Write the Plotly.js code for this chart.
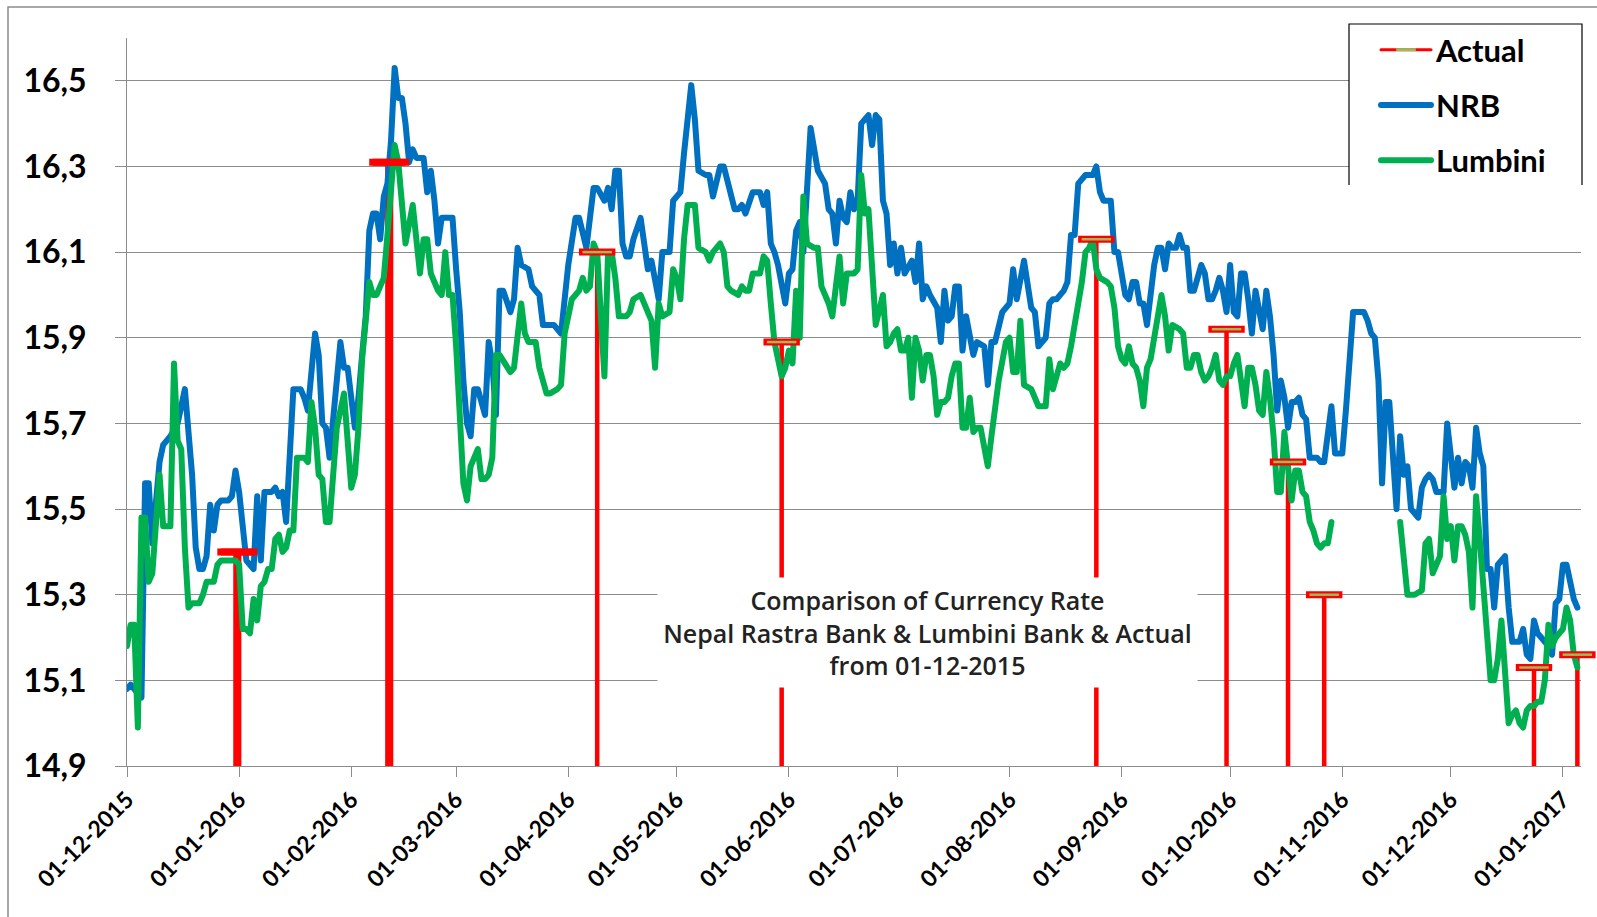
<!DOCTYPE html>
<html>
<head>
<meta charset="utf-8">
<script src="https://cdn.plot.ly/plotly-3.0.1.min.js"></script>
<style>
  html, body { margin: 0; padding: 0; background: #fff; }
  #chart { width: 1597px; height: 917px; }
  path.js-line { stroke-linejoin: round !important; stroke-linecap: round !important; }
</style>
</head>
<body>
<div id="chart"></div>
<script>
// ---- DATA (x = days after 01-12-2015, y = rate) ----
const startDay = '2015-12-01';

const nrbDay = [
  0,1,3,4,5,6,7,8,9,10,12,14,16,18,19,20,21,22,23,24,25,26,28,29,30,
  31,32,33,35,36,37,38,40,41,42,43,44,45,46,48,49,50,52,53,54,55,56,57,59,60,61,
  63,64,65,66,67,68,69,70,71,72,73,74,75,76,77,78,79,80,82,83,84,85,86,87,89,90,
  91,92,93,94,95,96,97,99,100,101,102,103,104,106,107,108,109,111,112,114,115,117,118,120,
  122,124,125,127,128,129,130,132,133,134,135,136,137,138,139,140,142,143,144,145,147,148,150,151,
  153,154,156,157,158,160,161,162,163,164,165,167,168,169,170,171,173,175,176,177,178,179,180,182,
  183,184,185,186,187,189,190,191,193,194,195,196,197,198,199,200,201,202,203,205,206,207,208,209,210,211,212,
  213,214,215,217,218,219,220,221,222,224,225,226,227,228,229,230,231,232,234,235,237,238,239,240,242,243,
  244,245,246,248,250,251,252,254,255,256,257,259,260,261,262,263,264,265,267,268,269,270,272,273,274,
  276,277,278,279,280,281,282,283,284,285,286,287,288,289,290,291,292,293,294,295,297,298,299,300,301,302,303,304,
  305,306,307,308,309,310,311,312,313,314,315,316,317,318,319,320,321,322,323,324,325,326,327,328,329,330,331,333,334,335,
  336,337,338,339,340,342,343,344,345,346,347,348,349,350,351,352,353,354,355,356,357,358,359,360,361,362,364,365,
  366,367,368,369,370,371,372,373,374,375,376,377,378,379,380,381,382,383,385,386,387,388,389,390,391,393,394,395,396,
  397,398,399,400,401
];
const nrbRate = [
  15.08,15.09,15.07,15.06,15.56,15.56,15.42,15.52,15.61,15.65,15.67,15.70,15.78,15.58,15.41,15.36,15.36,15.39,15.51,15.45,15.51,15.52,15.52,15.53,15.59,
  15.54,15.45,15.38,15.36,15.53,15.38,15.54,15.54,15.55,15.53,15.54,15.47,15.62,15.78,15.78,15.76,15.73,15.91,15.86,15.70,15.69,15.62,15.71,15.89,15.83,15.83,
  15.69,15.76,15.86,15.95,16.15,16.19,16.19,16.13,16.23,16.26,16.36,16.53,16.46,16.46,16.40,16.31,16.34,16.32,16.32,16.24,16.29,16.22,16.12,16.18,16.18,16.18,
  16.06,15.96,15.80,15.70,15.67,15.78,15.78,15.72,15.89,15.84,15.72,16.01,16.01,15.96,15.99,16.11,16.07,16.06,16.02,16.00,15.93,15.93,15.93,15.91,
  16.07,16.18,16.18,16.11,16.19,16.25,16.25,16.22,16.25,16.20,16.29,16.29,16.12,16.09,16.09,16.13,16.18,16.12,16.06,16.08,15.99,16.10,16.10,16.22,
  16.24,16.33,16.49,16.41,16.29,16.28,16.28,16.23,16.27,16.30,16.30,16.24,16.20,16.20,16.21,16.19,16.24,16.24,16.21,16.24,16.12,16.10,16.07,15.98,
  16.05,16.06,16.15,16.17,16.10,16.39,16.33,16.29,16.26,16.20,16.19,16.12,16.22,16.18,16.17,16.24,16.20,16.22,16.40,16.42,16.35,16.42,16.41,16.22,16.19,16.07,16.12,
  16.05,16.11,16.05,16.08,16.03,16.12,15.99,16.02,16.00,15.97,15.89,16.01,15.94,15.95,16.02,16.02,15.87,15.95,15.86,15.89,15.88,15.79,15.89,15.89,15.96,15.97,
  15.98,16.06,15.99,16.08,15.97,15.96,15.88,15.90,15.98,15.99,15.99,16.01,16.03,16.14,16.14,16.26,16.27,16.28,16.28,16.30,16.24,16.22,16.22,16.10,16.10,
  16.00,15.99,16.03,16.03,15.98,15.98,15.93,16.00,16.07,16.11,16.11,16.06,16.12,16.11,16.11,16.14,16.11,16.11,16.01,16.01,16.07,16.05,15.99,15.99,16.01,16.04,16.01,15.96,
  16.07,15.96,15.95,16.05,16.05,15.99,15.91,16.01,15.97,15.92,16.01,15.95,15.86,15.73,15.80,15.76,15.69,15.75,15.75,15.76,15.72,15.71,15.62,15.62,15.62,15.61,15.61,15.74,15.63,15.63,
  15.63,15.73,15.85,15.96,15.96,15.96,15.94,15.91,15.90,15.80,15.56,15.75,15.75,15.64,15.50,15.67,15.58,15.60,15.50,15.49,15.48,15.55,15.57,15.58,15.57,15.54,15.54,15.70,
  15.61,15.55,15.62,15.56,15.61,15.60,15.55,15.69,15.63,15.60,15.36,15.36,15.27,15.37,15.38,15.39,15.27,15.19,15.19,15.22,15.16,15.15,15.24,15.21,15.20,15.18,15.16,15.28,15.29,
  15.37,15.37,15.33,15.29,15.27
];

const lumbiniDay = [
  0,1,2,3,4,5,6,7,9,10,12,13,14,15,16,17,18,20,21,22,24,25,26,28,30,
  31,32,33,34,35,36,37,38,39,40,41,42,43,44,45,46,47,49,50,51,52,53,54,55,56,57,58,60,61,
  62,63,64,65,67,68,69,70,71,72,74,75,76,77,79,80,81,82,83,84,86,87,88,89,90,
  91,92,93,94,95,96,97,98,99,100,101,102,103,106,107,109,110,111,113,114,116,117,119,120,121,
  123,125,126,127,128,129,130,132,133,134,135,136,138,139,140,142,144,145,146,147,148,150,151,
  152,153,154,155,157,158,160,161,162,164,165,166,167,169,170,171,172,173,175,176,177,178,179,181,182,
  183,184,185,186,187,188,190,191,192,194,195,196,197,198,199,200,201,202,203,204,205,207,208,209,210,211,212,
  213,214,215,216,217,218,219,220,221,222,223,224,225,226,227,228,229,230,231,232,233,234,235,236,238,239,240,241,243,
  244,245,246,247,248,250,251,252,253,254,255,256,257,258,259,260,261,263,264,265,266,267,268,269,271,272,273,274,
  275,276,277,278,279,280,281,282,283,284,285,286,287,288,289,291,292,293,294,295,296,297,298,299,300,301,302,303,304,
  305,306,307,308,309,310,311,312,313,314,315,316,317,318,319,320,321,322,323,324,325,326,327,328,329,330,331,332,333,
  342,
  352,353,354,355,356,358,359,360,361,362,363,364,365,
  366,367,368,369,370,371,372,373,374,375,376,377,378,379,380,381,382,383,384,385,386,387,388,389,390,391,392,393,394,395,
  397,398,399,400,401
];
const lumbiniRate = [
  15.18,15.23,15.23,14.99,15.48,15.48,15.33,15.35,15.58,15.46,15.46,15.84,15.66,15.64,15.41,15.27,15.28,15.28,15.30,15.33,15.33,15.37,15.38,15.38,15.38,
  15.37,15.22,15.22,15.21,15.29,15.24,15.32,15.33,15.36,15.36,15.43,15.44,15.40,15.41,15.45,15.45,15.62,15.62,15.61,15.75,15.69,15.58,15.57,15.47,15.47,15.59,15.69,15.77,15.67,
  15.55,15.58,15.69,15.85,16.03,16.00,16.00,16.02,16.04,16.14,16.35,16.31,16.20,16.12,16.21,16.13,16.05,16.13,16.13,16.05,16.01,16.00,16.10,16.00,16.00,
  15.88,15.71,15.56,15.52,15.60,15.62,15.64,15.57,15.57,15.58,15.62,15.86,15.86,15.82,15.83,15.98,15.91,15.89,15.89,15.83,15.77,15.77,15.78,15.79,15.91,
  15.99,16.01,16.04,16.01,16.02,16.12,16.10,15.81,16.10,16.10,16.04,15.95,15.95,15.96,15.99,16.00,15.96,15.94,15.83,15.98,15.95,15.96,16.06,
  16.04,15.99,16.13,16.21,16.21,16.11,16.10,16.08,16.10,16.12,16.10,16.02,16.01,16.00,16.02,16.01,16.01,16.05,16.05,16.09,16.08,15.98,15.89,15.81,15.83,
  15.87,15.84,16.01,15.90,16.23,16.12,16.11,16.11,16.02,15.98,15.95,16.02,16.09,15.98,16.05,16.05,16.05,16.06,16.28,16.19,16.20,15.93,15.96,16.00,15.88,15.89,15.91,
  15.92,15.87,15.87,15.90,15.76,15.90,15.87,15.80,15.86,15.86,15.81,15.72,15.75,15.75,15.76,15.81,15.84,15.84,15.69,15.69,15.76,15.68,15.69,15.69,15.60,15.67,15.75,15.80,15.89,
  15.90,15.82,15.82,15.94,15.79,15.78,15.76,15.74,15.74,15.74,15.85,15.78,15.81,15.84,15.83,15.84,15.88,15.97,16.03,16.10,16.11,16.13,16.06,16.04,16.03,16.02,15.97,15.88,
  15.85,15.84,15.88,15.84,15.83,15.80,15.74,15.83,15.85,15.90,15.96,16.00,15.95,15.87,15.93,15.92,15.91,15.83,15.83,15.86,15.86,15.82,15.80,15.81,15.83,15.86,15.80,15.79,15.81,
  15.81,15.84,15.86,15.80,15.74,15.83,15.83,15.79,15.73,15.72,15.82,15.76,15.67,15.54,15.54,15.68,15.60,15.52,15.59,15.59,15.54,15.53,15.47,15.45,15.42,15.41,15.42,15.42,15.47,
  null,
  15.47,15.39,15.30,15.30,15.30,15.31,15.42,15.43,15.35,15.37,15.39,15.53,15.43,
  15.46,15.38,15.46,15.46,15.44,15.40,15.27,15.53,15.43,15.32,15.20,15.10,15.10,15.15,15.24,15.11,15.00,15.02,15.03,15.00,14.99,15.03,15.04,15.04,15.05,15.05,15.10,15.23,15.18,15.20,
  15.22,15.27,15.24,15.16,15.13
];

const actualDay  = [30, 31, 72, 73, 130, 181, 268, 304, 321, 331, 389, 401];
const actualRate = [15.40, 15.40, 16.31, 16.31, 16.10, 15.89, 16.13, 15.92, 15.61, 15.30, 15.13, 15.16];

const seriesNames = ['Actual', 'NRB', 'Lumbini'];
const titleLines = ['Comparison of Currency Rate', 'Nepal Rastra Bank &amp; Lumbini Bank &amp; Actual', 'from 01-12-2015'];

// ---- helpers ----
const base = new Date(startDay + 'T00:00:00Z').getTime();
const toDate = d => new Date(base + d * 86400000).toISOString().slice(0, 10);

const nrbX = nrbDay.map(toDate);
const lumX = lumbiniDay.map(toDate);
const actX = actualDay.map(toDate);

const RED = '#FF0000', BLUE = '#0070C0', GREEN = '#00B050', OLIVE = '#9BBB59', GRID = '#8c8c8c';
const FONT = 'Lato, "Open Sans", sans-serif';

// caps of the wide (multi-day) drops look solid red in the original
const capInnerColor = actualDay.map((d, i) => (i < 4 ? RED : OLIVE));

const traces = [
  { type: 'bar', x: actX, y: actualRate, width: 1.25 * 86400000,
    marker: { color: RED, line: { width: 0 } }, showlegend: false, hoverinfo: 'skip' },
  { type: 'scatter', mode: 'lines', x: nrbX, y: nrbRate, name: seriesNames[1],
    line: { color: BLUE, width: 6 }, legendgroup: 'b', legendrank: 2 },
  { type: 'scatter', mode: 'lines', x: lumX, y: lumbiniRate, name: seriesNames[2],
    line: { color: GREEN, width: 6 }, connectgaps: false, legendgroup: 'c', legendrank: 3 },
  { type: 'scatter', mode: 'markers', x: actX, y: actualRate, showlegend: false, cliponaxis: false,
    marker: { symbol: 'line-ew', size: 26, color: RED, line: { width: 7, color: RED } }, hoverinfo: 'skip' },
  { type: 'scatter', mode: 'markers', x: actX, y: actualRate, showlegend: false, cliponaxis: false,
    marker: { symbol: 'line-ew', size: 21, color: capInnerColor, line: { width: 2.5, color: capInnerColor } }, hoverinfo: 'skip' },
  { type: 'scatter', mode: 'lines+markers', x: [null], y: [null], name: seriesNames[0],
    line: { color: RED, width: 3 },
    marker: { symbol: 'line-ew', size: 14, color: OLIVE, line: { width: 3, color: OLIVE } },
    legendgroup: 'a', legendrank: 1 }
];

const W = 1454, T = 38, H = 728, L = 127;
const px2x = p => (p - L) / W;
const py2y = p => 1 - (p - T) / H;

const layout = {
  width: 1597, height: 917,
  margin: { l: L, r: 1597 - L - W, t: T, b: 917 - T - H },
  paper_bgcolor: '#ffffff', plot_bgcolor: '#ffffff',
  separators: ',.',
  showlegend: true,
  legend: {
    x: px2x(1376), y: py2y(23), xanchor: 'left', yanchor: 'top',
    bgcolor: 'rgba(0,0,0,0)', borderwidth: 0,
    font: { family: FONT, size: 31, color: '#000', weight: 'bold' },
    itemwidth: 50, tracegroupgap: 12, traceorder: 'grouped'
  },
  xaxis: {
    type: 'date', range: ['2015-12-01', '2017-01-06'],
    tick0: '2015-12-01', dtick: 'M1', tickformat: '%d-%m-%Y', tickangle: -45,
    ticks: 'outside', ticklen: 10, tickcolor: GRID, tickwidth: 1,
    showline: true, linecolor: GRID, linewidth: 1, showgrid: false, zeroline: false,
    tickfont: { family: FONT, size: 23, color: '#000', weight: 'bold' }
  },
  yaxis: {
    range: [14.9, 16.6], tick0: 14.9, dtick: 0.2, tickformat: '.1f',
    ticks: 'outside', ticklen: 11, tickcolor: GRID, tickwidth: 1,
    showline: true, linecolor: GRID, linewidth: 1,
    showgrid: true, gridcolor: GRID, gridwidth: 1, zeroline: false,
    ticklabelstandoff: 22,
    tickfont: { family: FONT, size: 32, color: '#000', weight: 'bold' }
  },
  shapes: [
    // outer chart border (left and top edges)
    { type: 'path', xref: 'paper', yref: 'paper', layer: 'above',
      path: `M ${px2x(8)},${py2y(960)} L ${px2x(8)},${py2y(7)} L ${px2x(1640)},${py2y(7)}`,
      line: { color: GRID, width: 1.5 } },
    // legend box background
    { type: 'rect', xref: 'paper', yref: 'paper', layer: 'above',
      x0: px2x(1349), x1: px2x(1582), y0: py2y(185), y1: py2y(24),
      fillcolor: '#ffffff', line: { width: 0 } },
    // legend box border (open at bottom)
    { type: 'path', xref: 'paper', yref: 'paper', layer: 'above',
      path: `M ${px2x(1349)},${py2y(185)} L ${px2x(1349)},${py2y(24)} L ${px2x(1582)},${py2y(24)} L ${px2x(1582)},${py2y(185)}`,
      line: { color: '#000000', width: 1.2 } }
  ],
  annotations: [
    { xref: 'paper', yref: 'paper', x: px2x(927.5), y: py2y(632.5),
      xanchor: 'center', yanchor: 'middle', showarrow: false,
      text: titleLines.join('<br>'), align: 'center',
      width: 539, height: 109, bgcolor: '#ffffff', borderpad: 0,
      font: { family: '"Open Sans", Lato, sans-serif', size: 25, color: '#222222', weight: 600 } }
  ]
};

Plotly.newPlot('chart', traces, layout, { displayModeBar: false, staticPlot: true });
</script>
</body>
</html>
